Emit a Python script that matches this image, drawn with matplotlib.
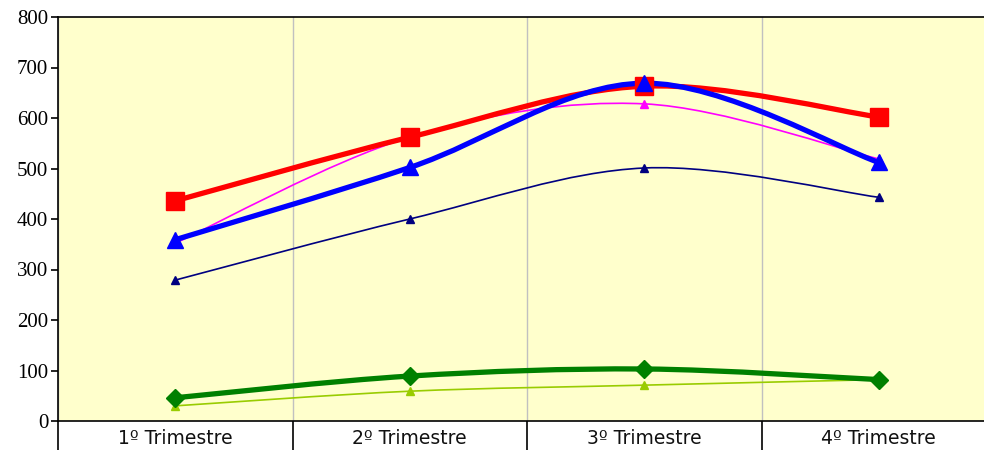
import numpy as np
import matplotlib
matplotlib.use("Agg")
from matplotlib import pyplot as plt
from matplotlib.path import Path
from matplotlib.patches import PathPatch

# data
categorias = ["1º Trimestre", "2º Trimestre", "3º Trimestre", "4º Trimestre"]
rojo = [436, 562, 663, 602]
azul = [359, 502, 669, 512]
magenta = [352, 562, 628, 519]
marino = [279, 400, 501, 443]
verde = [46, 89, 103, 82]
verde_claro = [30, 59, 71, 82]

# (values, colour, line width, marker, marker size)
series = [
    (verde_claro, "#99CC00", 1.2, "^", 6),
    (verde, "#008000", 3.8, "D", 9),
    (marino, "#000080", 1.2, "^", 6),
    (magenta, "#FF00FF", 1.2, "^", 6),
    (rojo, "#FF0000", 3.8, "s", 13),
    (azul, "#0000FF", 3.8, "^", 12),
]


def smooth_path(x, y):
    # Excel-like smoothed line: cubic bezier through the points
    pts = np.column_stack([x, y]).astype(float)
    ext = np.vstack([pts[0], pts, pts[-1]])
    verts = [tuple(pts[0])]
    codes = [Path.MOVETO]
    for i in range(len(pts) - 1):
        p0, p1, p2, p3 = ext[i], ext[i + 1], ext[i + 2], ext[i + 3]
        c1 = p1 + (p2 - p0) / 6.0
        c2 = p2 - (p3 - p1) / 6.0
        verts += [tuple(c1), tuple(c2), tuple(p2)]
        codes += [Path.CURVE4] * 3
    return Path(verts, codes)


fig = plt.figure(figsize=(9.84, 4.5), dpi=100)
ax = fig.add_axes([58 / 984, 29 / 450, 938 / 984, 404 / 450])
ax.set_facecolor("#FFFFCC")

x = np.arange(len(categorias))
for vals, col, lw, mk, ms in series:
    patch = PathPatch(smooth_path(x, vals), facecolor="none", edgecolor=col,
                      lw=lw, capstyle="round", joinstyle="round", zorder=3)
    ax.add_patch(patch)
    ax.plot(x, vals, linestyle="none", marker=mk, markersize=ms,
            color=col, markeredgecolor=col, zorder=4, clip_on=False)

ax.set_xlim(-0.5, 3.5)
ax.set_ylim(0, 800)

ax.set_yticks(np.arange(0, 801, 100))
ax.set_xticks(x)
ax.set_xticklabels(categorias, fontsize=13.5, family="DejaVu Sans", color="#111111")
ax.set_xticks(np.arange(-0.5, 3.6, 1), minor=True)
ax.tick_params(axis="x", which="major", length=0, pad=6)
ax.tick_params(axis="x", which="minor", length=22, width=1.2, direction="out")
ax.tick_params(axis="y", length=5, width=1.2, direction="out", pad=2)
for lab in ax.get_yticklabels():
    lab.set_family("Liberation Serif")
    lab.set_fontsize(15)

ax.grid(which="minor", axis="x", color="#C0C0C0", lw=1)
ax.set_axisbelow(True)

for s in ["left", "bottom", "top"]:
    ax.spines[s].set_linewidth(1.2)
    ax.spines[s].set_color("black")
ax.spines["right"].set_visible(False)

fig.savefig("out.png", dpi=100)
